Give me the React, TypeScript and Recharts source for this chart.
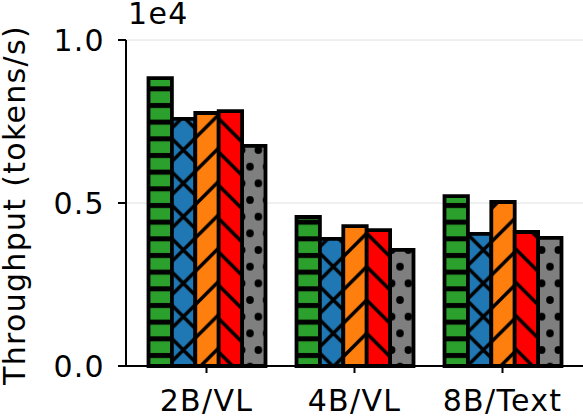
import { BarChart, Bar, XAxis, YAxis, CartesianGrid } from "recharts";

// throughput per model (tokens/s)
const models = ["2B/VL", "4B/VL", "8B/Text"];
const greenVals = [8830, 4570, 5210];
const blueVals = [7580, 3900, 4050];
const orangeVals = [7760, 4290, 5030];
const redVals = [7820, 4170, 4110];
const grayVals = [6750, 3560, 3930];
const yTicks = [0, 5000, 10000];

const data = models.map((m, i) => ({
  model: m,
  green: greenVals[i],
  blue: blueVals[i],
  orange: orangeVals[i],
  red: redVals[i],
  gray: grayVals[i],
}));

const FONT = "DejaVu Sans";
const FS = 30;
const LS = 1.3; // letter spacing, matplotlib text runs a bit wider
const P = 100 / 3; // hatch period
const H = P / 2;
const LW = 3.5;
const a = 4;
const R = 3.8;

const tickStyle = { fill: "#000", fontSize: FS, fontFamily: FONT, letterSpacing: LS };

export default function App() {
  return (
    <div style={{ position: "fixed", left: 0, top: 0, width: 583, height: 420, background: "#fff" }}>
      <BarChart
        width={583}
        height={420}
        data={data}
        margin={{ top: 40, right: 0, bottom: 0, left: 0 }}
        barGap={0}
        barSize={23.4}
      >
        <defs>
          <pattern id="hGreen" patternUnits="userSpaceOnUse" width={10} height={H} x={0} y={0}>
            <rect width={10} height={H} fill="#2ca02c" />
            <rect y={3} width={10} height={5} fill="#000" />
          </pattern>
          <pattern id="hBlue" patternUnits="userSpaceOnUse" width={P} height={P} x={0} y={0}>
            <rect width={P} height={P} fill="#1f77b4" />
            <path
              d={`M0,${P} L${P},0 M${-a},${a} L${a},${-a} M${P - a},${P + a} L${P + a},${P - a} M0,0 L${P},${P} M${-a},${P - a} L${a},${P + a} M${P - a},${-a} L${P + a},${a}`}
              stroke="#000"
              strokeWidth={LW}
            />
          </pattern>
          <pattern id="hOrange" patternUnits="userSpaceOnUse" width={P} height={P} x={0} y={0}>
            <rect width={P} height={P} fill="#ff7f0e" />
            <path
              d={`M0,${P} L${P},0 M${-a},${a} L${a},${-a} M${P - a},${P + a} L${P + a},${P - a}`}
              stroke="#000"
              strokeWidth={LW}
            />
          </pattern>
          <pattern id="hRed" patternUnits="userSpaceOnUse" width={P} height={P} x={0} y={0}>
            <rect width={P} height={P} fill="#ff0000" />
            <path
              d={`M0,0 L${P},${P} M${-a},${P - a} L${a},${P + a} M${P - a},${-a} L${P + a},${a}`}
              stroke="#000"
              strokeWidth={LW}
            />
          </pattern>
          <pattern id="hGray" patternUnits="userSpaceOnUse" width={H} height={P} x={0} y={0}>
            <rect width={H} height={P} fill="#7f7f7f" />
            <circle cx={0} cy={0} r={R} fill="#000" />
            <circle cx={H} cy={0} r={R} fill="#000" />
            <circle cx={0} cy={P} r={R} fill="#000" />
            <circle cx={H} cy={P} r={R} fill="#000" />
            <circle cx={H / 2} cy={H} r={R} fill="#000" />
          </pattern>
        </defs>
        <CartesianGrid vertical={false} stroke="#e0e0e0" strokeWidth={1} />
        <XAxis
          dataKey="model"
          height={54}
          padding={{ left: 6.5, right: 6.5 }}
          axisLine={{ stroke: "#000", strokeWidth: 2 }}
          tickLine={{ stroke: "#000", strokeWidth: 2 }}
          tickSize={7}
          tickMargin={17}
          tick={tickStyle}
        />
        <YAxis
          width={126}
          domain={[0, 10000]}
          ticks={yTicks}
          tickFormatter={(v: number) => (v / 10000).toFixed(1)}
          axisLine={{ stroke: "#000", strokeWidth: 2 }}
          tickLine={{ stroke: "#000", strokeWidth: 2 }}
          tickSize={8}
          tickMargin={13}
          tick={tickStyle}
        />
        <Bar dataKey="green" fill="url(#hGreen)" stroke="#000" strokeWidth={3.8} isAnimationActive={false} />
        <Bar dataKey="blue" fill="url(#hBlue)" stroke="#000" strokeWidth={3.8} isAnimationActive={false} />
        <Bar dataKey="orange" fill="url(#hOrange)" stroke="#000" strokeWidth={3.8} isAnimationActive={false} />
        <Bar dataKey="red" fill="url(#hRed)" stroke="#000" strokeWidth={3.8} isAnimationActive={false} />
        <Bar dataKey="gray" fill="url(#hGray)" stroke="#000" strokeWidth={3.8} isAnimationActive={false} />
        <text x={128} y={23.5} fontSize={FS} fontFamily={FONT} letterSpacing={LS} fill="#000">
          1e4
        </text>
        <text
          x={25}
          y={205}
          transform="rotate(-90 25 205)"
          textAnchor="middle"
          fontSize={FS}
          fontFamily={FONT}
          letterSpacing={LS}
          fill="#000"
        >
          Throughput (tokens/s)
        </text>
      </BarChart>
    </div>
  );
}
